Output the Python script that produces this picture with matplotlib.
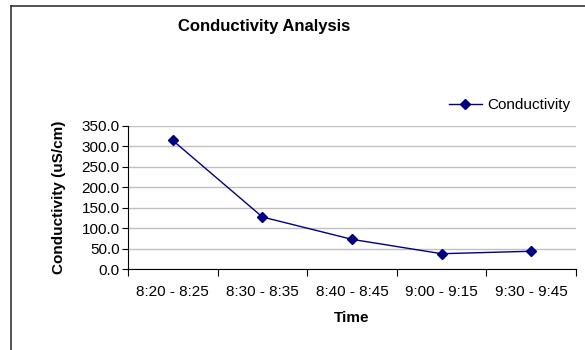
import matplotlib
matplotlib.use("Agg")
import matplotlib.pyplot as plt
from matplotlib.lines import Line2D

categories = ["8:20 - 8:25", "8:30 - 8:35", "8:40 - 8:45", "9:00 - 9:15", "9:30 - 9:45"]
conductivity = [314.0, 127.5, 73.0, 38.0, 44.0]
yticks = [0, 50, 100, 150, 200, 250, 300, 350]

plt.rcParams['font.family'] = ['Liberation Sans', 'DejaVu Sans']

fig = plt.figure(figsize=(5.85, 3.5), dpi=100)
ax = fig.add_axes([128/585, 1-269.3/350, (576-128)/585, (269.3-125.7)/350])

x = [i + 0.5 for i in range(len(categories))]
line, = ax.plot(x, conductivity, color='#000080', marker='D', markersize=5.5, linewidth=1.0,
                label='Conductivity', zorder=3)

ax.set_xlim(0, len(categories))
ax.set_ylim(0, 350)
ax.set_yticks(yticks)
ax.set_yticklabels([f"{v:.1f}" for v in yticks], fontsize=11)
ax.set_xticks(range(len(categories) + 1))
ax.set_xticklabels([])
ax.set_xticks(x, minor=True)
ax.set_xticklabels(categories, minor=True, fontsize=11)
ax.tick_params(axis='x', which='minor', length=0, pad=11)
ax.tick_params(axis='x', which='major', length=5, direction='out', width=0.8)
ax.tick_params(axis='y', length=4, direction='out', width=0.8, pad=2)

ax.yaxis.grid(True, color='#c0c0c0', linewidth=1.0)
ax.set_axisbelow(True)
for s in ['top', 'right']:
    ax.spines[s].set_visible(False)
ax.spines['left'].set_color('black')
ax.spines['bottom'].set_color('black')

ax.set_xlabel('Time', fontsize=11, fontweight='bold', labelpad=9)
ax.set_ylabel('Conductivity (uS/cm)', fontsize=11, fontweight='bold', labelpad=11)

fig.text(264/585, 1-26/350, 'Conductivity Analysis', ha='center', va='center',
         fontsize=12, fontweight='bold')

leg = ax.legend(handles=[line], loc='center left', bbox_to_anchor=(441/585, 1-105/350),
                bbox_transform=fig.transFigure, frameon=False, fontsize=11,
                handlelength=2.2, handletextpad=0.3, borderpad=0)

# outer chart border (top and left visible)
fig.add_artist(Line2D([10.5/585, 1.0], [1-5.5/350, 1-5.5/350], transform=fig.transFigure,
                      color='#333333', linewidth=1.2))
fig.add_artist(Line2D([10.5/585, 10.5/585], [0, 1-5.5/350], transform=fig.transFigure,
                      color='#333333', linewidth=1.2))

fig.savefig('out.png', dpi=100)
